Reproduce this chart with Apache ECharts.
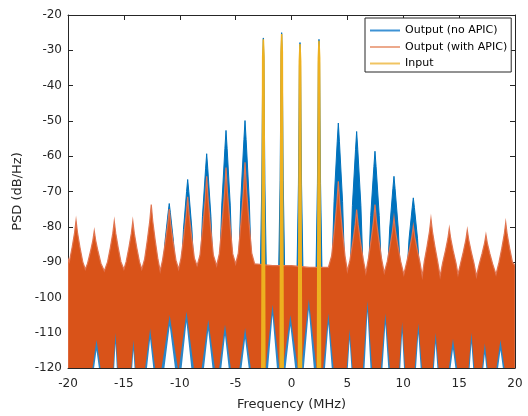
<!DOCTYPE html>
<html><head><meta charset="utf-8">
<script src="https://cdn.jsdelivr.net/npm/echarts@6/dist/echarts.min.js"></script>
<style>html,body{margin:0;padding:0;background:#fff}#c{width:528px;height:416px}</style>
</head><body><div id="c"></div>
<script>
// ---- data ----
const xTickValues = [-20, -15, -10, -5, 0, 5, 10, 15, 20];
const yTickValues = [-120, -110, -100, -90, -80, -70, -60, -50, -40, -30, -20];

// input tones (MHz, dB/Hz)
const toneFreq = [-2.52, -0.88, 0.76, 2.46];
const inputPeakDb = [-26.9, -25.4, -28.2, -27.3];
const noApicTonePeakDb = [-26.5, -25.0, -27.8, -26.9];

// intermodulation lobes, output without APIC
const noApicLobeFreq = [-10.94, -9.29, -7.59, -5.86, -4.16, 4.19, 5.83, 7.47, 9.17, 10.9];
const noApicLobeDb = [-73.4, -66.6, -59.3, -52.7, -49.9, -50.6, -53.0, -58.6, -65.7, -71.8];

// lobes of the output with APIC
const apicLobeFreq = [-19.28, -17.65, -15.86, -14.2, -12.55, -10.94, -9.29, -7.59, -5.86, -4.16,
                      4.19, 5.83, 7.47, 9.17, 10.9, 12.48, 14.12, 15.73, 17.4, 19.17];
const apicLobeDb = [-78.2, -81.2, -78.4, -78.4, -73.7, -75.0, -71.5, -65.7, -63.2, -61.7,
                    -67.1, -75.1, -73.7, -77.4, -79.8, -77.7, -80.5, -80.9, -82.3, -78.8];
// upper edge of the APIC noise band between lobes
const apicFloorFreq = [-20, -18.45, -16.75, -15.0, -13.4, -11.75, -10.1, -8.45, -6.7, -5.0, -3.3,
                       -1.7, 0, 1.6, 3.3, 5.0, 6.65, 8.3, 10.05, 11.7, 13.3, 14.9, 16.55, 18.3, 20];
const apicFloorDb = [-89, -92, -92.5, -92, -92, -92.5, -92, -91, -91, -90.5, -90.5,
                     -91, -91, -91.5, -91.5, -92.5, -93, -93, -93.5, -94, -94, -93.5, -94, -93.5, -91];

// empty gaps at the bottom of the noise band
const gapFreq = [-17.45, -15.75, -14.15, -12.65, -10.9, -9.4, -7.45, -5.95, -4.15, -1.7, -0.1, 1.55,
                 3.3, 5.2, 6.8, 8.4, 9.9, 11.35, 12.9, 14.45, 16.1, 17.3, 18.7];
const gapTopDb = [-115, -113, -115, -111.8, -108, -107, -109.3, -110.7, -111.7, -105, -108, -103.5,
                  -107.5, -112, -104, -107.5, -110, -110.3, -113, -114.7, -113, -116, -115];
const gapHalfWidth = [0.3, 0.15, 0.15, 0.35, 0.55, 0.5, 0.45, 0.4, 0.4, 0.45, 0.5, 0.5,
                      0.35, 0.2, 0.3, 0.3, 0.2, 0.25, 0.2, 0.3, 0.2, 0.2, 0.3];

// ---- styles ----
const BLUE = '#0072BD', ORANGE = '#D95319', YELLOW = '#EDB120', INK = '#262626';
const FONT = 'DejaVu Sans';
const blueShape = [[0.1, 0.12], [0.38, 0.5], [0.6, 1.0]];
const blueToneShape = [[0.05, 0.1], [0.14, 0.6], [0.28, 1.0]];
const orangeShape = [[0.13, 0.25], [0.35, 0.55], [0.6, 0.85]];
const yellowShape = [[0.06, 0.05], [0.14, 1.0]];

function spikes(freqs, peaks, ref, shape) {
  const pts = [];
  freqs.forEach((f, i) => {
    const p = peaks[i];
    for (let k = shape.length - 1; k >= 0; k--) pts.push([f - shape[k][0], p + shape[k][1] * (ref - p)]);
    pts.push([f, p]);
    for (let k = 0; k < shape.length; k++) pts.push([f + shape[k][0], p + shape[k][1] * (ref - p)]);
  });
  return pts;
}
function gaps(freqs, tops, hws, scale, lift) {
  const pts = [];
  freqs.forEach((f, i) => {
    pts.push([f - hws[i] * scale, -122], [f, tops[i] + lift], [f + hws[i] * scale, -122]);
  });
  return pts;
}
const byX = (a, b) => a[0] - b[0];

const blueData = [[-20, -95], [20, -95]]
  .concat(spikes(noApicLobeFreq, noApicLobeDb, -95, blueShape))
  .concat(spikes(toneFreq, noApicTonePeakDb, -95, blueToneShape)).sort(byX);
const orangeData = apicFloorFreq.map((f, i) => [f, apicFloorDb[i]])
  .concat(spikes(apicLobeFreq, apicLobeDb, -92, orangeShape)).sort(byX);
const yellowData = [[-20, -125], [20, -125]].concat(spikes(toneFreq, inputPeakDb, -125, yellowShape)).sort(byX);
const gapBlueData = gaps(gapFreq, gapTopDb, gapHalfWidth, 1.5, 3);
const gapWhiteData = gaps(gapFreq, gapTopDb, gapHalfWidth, 1.0, 0);

// a filled band from the curve down below the axis floor, drawn through the axis scales
function areaSeries(name, pts, fill, stroke, lw) {
  return {
    name: name, type: 'custom', clip: true, silent: true,
    itemStyle: { color: fill },
    data: pts,
    renderItem: function (params, api) {
      if (params.dataIndex !== 0) return null;
      const poly = [api.coord([pts[0][0], -125])];
      pts.forEach(p => poly.push(api.coord(p)));
      poly.push(api.coord([pts[pts.length - 1][0], -125]));
      return {
        type: 'polygon', shape: { points: poly },
        style: { fill: fill, stroke: stroke || null, lineWidth: lw || 0 }
      };
    }
  };
}

const chart = echarts.init(document.getElementById('c'), null, { renderer: 'canvas' });
const axisCommon = {
  axisLine: { show: true, onZero: false, lineStyle: { color: INK, width: 1 } },
  axisTick: { show: true, inside: true, length: 5, lineStyle: { color: INK } },
  splitLine: { show: false }
};
chart.setOption({
  animation: false,
  backgroundColor: '#fff',
  textStyle: { fontFamily: FONT },
  grid: { left: 68, right: 13, top: 15, bottom: 47 },
  legend: {
    orient: 'vertical', left: 365, top: 18,
    padding: [7, 4, 3, 5], itemGap: 5.5, itemWidth: 30, itemHeight: 13,
    backgroundColor: '#fff', borderColor: INK, borderWidth: 1,
    textStyle: { fontFamily: FONT, fontSize: 11, color: '#000' },
    data: [
      { name: 'Output (no APIC)', icon: 'path://M0 0H30V2H0Z', itemStyle: { color: '#3d92d4' } },
      { name: 'Output (with APIC)', icon: 'path://M0 0H30V1H0Z', itemStyle: { color: ORANGE } },
      { name: 'Input', icon: 'path://M0 0H30V2H0Z', itemStyle: { color: '#f0c462' } }
    ]
  },
  xAxis: [
    Object.assign({
      type: 'value', min: xTickValues[0], max: xTickValues[xTickValues.length - 1], interval: 5,
      name: 'Frequency (MHz)', nameLocation: 'middle', nameGap: 30,
      nameTextStyle: { fontFamily: FONT, fontSize: 13, color: INK },
      axisLabel: { fontFamily: FONT, fontSize: 12, color: INK, margin: 10 }
    }, axisCommon),
    Object.assign({
      type: 'value', position: 'top', min: -20, max: 20, interval: 5, axisLabel: { show: false }
    }, axisCommon)
  ],
  yAxis: [
    Object.assign({
      type: 'value', min: yTickValues[0], max: yTickValues[yTickValues.length - 1], interval: 10,
      name: 'PSD (dB/Hz)', nameLocation: 'middle', nameGap: 33,
      nameTextStyle: { fontFamily: FONT, fontSize: 13, color: INK },
      axisLabel: { fontFamily: FONT, fontSize: 12, color: INK, margin: 6 }
    }, axisCommon),
    Object.assign({
      type: 'value', position: 'right', min: -120, max: -20, interval: 10, axisLabel: { show: false }
    }, axisCommon)
  ],
  series: [
    areaSeries('Output (no APIC)', blueData, BLUE, BLUE, 1),
    areaSeries('Output (with APIC)', orangeData, ORANGE, '#e07450', 1.2),
    areaSeries('gapBlue', gapBlueData, '#2a86c8'),
    areaSeries('gapWhite', gapWhiteData, '#ffffff'),
    areaSeries('Input', yellowData, YELLOW, YELLOW, 1.5)
  ]
});
</script></body></html>
